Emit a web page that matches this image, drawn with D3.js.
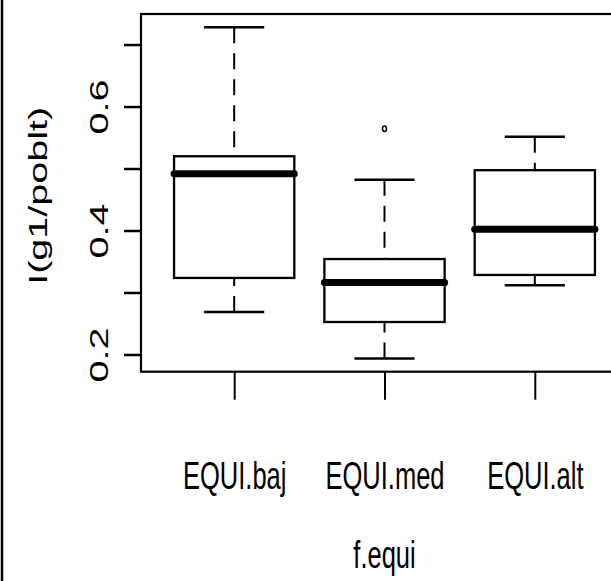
<!DOCTYPE html>
<html>
<head>
<meta charset="utf-8">
<script src="https://cdn.jsdelivr.net/npm/d3@7"></script>
<style>
  body { margin: 0; background: #fff; }
  text { font-family: "Liberation Sans", Arial, sans-serif; fill: #000; }
</style>
</head>
<body>
<div id="chart"></div>
<script>
// values
var categories = ["EQUI.baj", "EQUI.med", "EQUI.alt"];
var lowWhisker = [0.2685, 0.1936, 0.3118];
var q1 = [0.3235, 0.2524, 0.3283];
var medians = [0.4915, 0.316, 0.4022];
var q3 = [0.5198, 0.354, 0.4973];
var highWhisker = [0.7279, 0.4819, 0.5514];
var outlierCat = ["EQUI.med"];
var outlierVal = [0.5642];
var yTicks = [0.2, 0.3, 0.4, 0.5, 0.6, 0.7];
var yLabels = [0.2, 0.4, 0.6];
var xTitle = "f.equi", yTitle = "I(g1/poblt)";

var svgwidth = 611, svgheight = 581;
var stretch = 1.55; // the picture is squashed/stretched vertically
var plot = { left: 141, right: 628, top: 14, bottom: 371.7 };

var svg = d3.select('#chart')
  .append('svg')
    .attr('width', svgwidth)
    .attr('height', svgheight);

svg.append('rect')
  .attr('width', svgwidth).attr('height', svgheight)
  .attr('fill', '#fff');

// left edge of the frame around the picture
svg.append('line')
  .attr('x1', 2).attr('x2', 2)
  .attr('y1', 0).attr('y2', svgheight)
  .attr('stroke', '#000').attr('stroke-width', 2.5);

// R style: positions 1..n, range padded by 4%
var n = categories.length;
var x = d3.scaleLinear()
  .domain([0.5 - 0.04 * n, n + 0.5 + 0.04 * n])
  .range([plot.left, plot.right]);

var allVals = lowWhisker.concat(highWhisker, outlierVal);
var lo = d3.min(allVals), hi = d3.max(allVals);
var pad = (hi - lo) * 0.04;
var y = d3.scaleLinear()
  .domain([lo - pad, hi + pad])
  .range([plot.bottom, plot.top]);

var boxes = categories.map(function(c, i) {
  return { cat: c, pos: i + 1, lw: lowWhisker[i], q1: q1[i], med: medians[i], q3: q3[i], hw: highWhisker[i] };
});

var g = svg.append('g');

boxes.forEach(function(b) {
  var cx = x(b.pos);
  var half = x(b.pos + 0.4) - cx, capHalf = x(b.pos + 0.2) - cx;

  // whiskers, dashed from the cap toward the box
  [[b.hw, b.q3], [b.lw, b.q1]].forEach(function(w) {
    g.append('line')
      .attr('x1', cx).attr('x2', cx)
      .attr('y1', y(w[0])).attr('y2', y(w[1]))
      .attr('stroke', '#000').attr('stroke-width', 2)
      .attr('stroke-dasharray', '16,10');
    g.append('line')
      .attr('x1', cx - capHalf).attr('x2', cx + capHalf)
      .attr('y1', y(w[0])).attr('y2', y(w[0]))
      .attr('stroke', '#000').attr('stroke-width', 2.5);
  });

  g.append('rect')
    .attr('x', cx - half).attr('width', 2 * half)
    .attr('y', y(b.q3)).attr('height', y(b.q1) - y(b.q3))
    .attr('fill', '#fff')
    .attr('stroke', '#000').attr('stroke-width', 2.3);

  g.append('line')
    .attr('x1', cx - half).attr('x2', cx + half)
    .attr('y1', y(b.med)).attr('y2', y(b.med))
    .attr('stroke', '#000').attr('stroke-width', 7)
    .attr('stroke-linecap', 'round');
});

outlierCat.forEach(function(c, i) {
  g.append('ellipse')
    .attr('cx', x(categories.indexOf(c) + 1))
    .attr('cy', y(outlierVal[i]))
    .attr('rx', 2).attr('ry', 2.8)
    .attr('fill', 'none')
    .attr('stroke', '#000').attr('stroke-width', 1.5);
});

// plot frame (right side falls off the picture)
svg.append('rect')
  .attr('x', plot.left).attr('y', plot.top)
  .attr('width', plot.right - plot.left).attr('height', plot.bottom - plot.top)
  .attr('fill', 'none')
  .attr('stroke', '#000').attr('stroke-width', 2.2);

var xAxis = d3.axisBottom(x)
  .tickValues(categories.map(function(c, i) { return i + 1; }))
  .tickFormat(function(d) { return categories[d - 1]; })
  .tickSize(28).tickSizeOuter(0);

var gX = svg.append('g')
  .attr('transform', 'translate(0,' + plot.bottom + ')')
  .call(xAxis);
gX.select('.domain').remove();
gX.selectAll('.tick line').attr('stroke', '#000').attr('stroke-width', 2);
gX.selectAll('.tick text')
  .attr('y', null).attr('dy', null)
  .attr('transform', 'translate(0,117) scale(1,' + stretch + ')')
  .attr('font-size', 25.5)
  .attr('font-family', '"Liberation Sans", Arial, sans-serif')
  .attr('fill', '#000');

var yAxis = d3.axisLeft(y)
  .tickValues(yTicks)
  .tickFormat(function(d) { return yLabels.indexOf(d) >= 0 ? d.toFixed(1) : ''; })
  .tickSize(17).tickSizeOuter(0);

var gY = svg.append('g')
  .attr('transform', 'translate(' + plot.left + ',0)')
  .call(yAxis);
gY.select('.domain').remove();
gY.selectAll('.tick line').attr('stroke', '#000').attr('stroke-width', 2.5);
gY.selectAll('.tick text')
  .attr('x', null).attr('dy', null)
  .attr('text-anchor', 'middle')
  .attr('transform', 'translate(-33,0) scale(1,' + stretch + ') rotate(-90)')
  .attr('font-size', 25.5)
  .attr('font-family', '"Liberation Sans", Arial, sans-serif')
  .attr('fill', '#000');

svg.append('text')
  .attr('text-anchor', 'middle')
  .attr('transform', 'translate(' + x((n + 1) / 2) + ',568) scale(1,' + stretch + ')')
  .attr('font-size', 25.5)
  .text(xTitle);

svg.append('text')
  .attr('text-anchor', 'middle')
  .attr('transform', 'translate(47,' + ((plot.top + plot.bottom) / 2 + 3) + ') scale(1,' + stretch + ') rotate(-90)')
  .attr('font-size', 25.5)
  .text(yTitle);
</script>
</body>
</html>
